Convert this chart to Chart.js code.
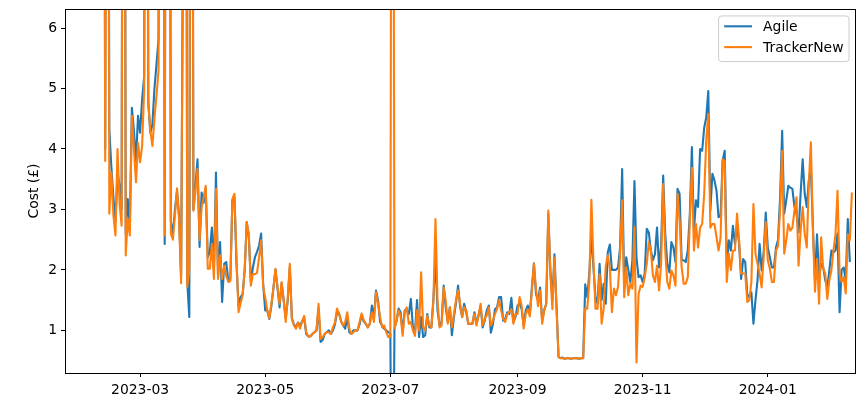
<!DOCTYPE html>
<html>
<head>
<meta charset="utf-8">
<title>Cost</title>
<script src="https://cdn.jsdelivr.net/npm/chart.js@4.4.1/dist/chart.umd.min.js"></script>
<style>
  html, body { margin: 0; padding: 0; background: #fff; }
  #wrap { width: 865px; height: 407px; }
</style>
</head>
<body>
<div id="wrap"><canvas id="costChart" width="865" height="407"></canvas></div>
<script>
// daily cost in £, one value per day starting on startDate
var startDate = '2023-02-11';

var agile = [
    20, 4.0, 20, 4.33, 3.7, 3.2, 2.8, 3.6, 3.4, 3.0,
    20, 2.6, 3.17, 2.7, 4.68, 4.3, 3.8, 4.55, 4.27, 4.82,
    5.2, 20, 4.77, 4.27, 4.4, 5.0, 5.4, 5.82, 20, 20,
    2.43, 20, 20, 2.8, 2.6, 3.0, 3.3, 2.9, 1.9, 8,
    20, 1.8, 1.22, 20, 3.0, 3.4, 3.83, 2.38, 3.28, 3.11,
    3.35, 2.21, 2.3, 2.7, 2.0, 3.61, 1.9, 2.46, 1.47, 2.1,
    2.13, 1.82, 1.85, 3.15, 3.2, 2.1, 1.41, 1.55, 1.6, 2.0,
    2.79, 2.55, 1.8, 2.04, 2.21, 2.3, 2.4, 2.6, 1.77, 1.33,
    1.33, 1.19, 1.4, 1.7, 2.0, 1.7, 1.38, 1.78, 1.5, 1.2,
    1.5, 2.05, 1.2, 1.1, 1.05, 1.13, 1.08, 1.15, 1.2, 0.94,
    0.9, 0.9, 0.94, 0.97, 1.0, 1.36, 0.81, 0.84, 0.94, 0.97,
    1.0, 0.94, 1.0, 1.1, 1.3, 1.28, 1.15, 1.08, 1.03, 1.22,
    0.97, 0.94, 1.0, 1.0, 1.0, 1.1, 1.25, 1.15, 1.11, 1.05,
    1.11, 1.41, 1.22, 1.66, 1.5, 1.14, 1.08, 1.03, 1.0, 0.97,
    0.95, -4, 1.03, 1.15, 1.36, 1.3, 0.97, 1.33, 1.33, 1.27,
    1.52, 1.05, 0.97, 1.5, 0.89, 1.22, 0.89, 0.92, 1.27, 1.05,
    1.05, 1.52, 2.2, 1.33, 1.08, 1.14, 1.74, 1.38, 1.14, 1.38,
    0.92, 1.22, 1.45, 1.74, 1.4, 1.22, 1.44, 1.3, 1.11, 1.11,
    1.11, 1.3, 1.11, 1.25, 1.4, 1.05, 1.16, 1.33, 1.41, 0.96,
    1.1, 1.35, 1.38, 1.55, 1.55, 1.16, 1.19, 1.3, 1.27, 1.54,
    1.14, 1.22, 1.41, 1.45, 1.35, 1.08, 1.33, 1.41, 1.27, 1.71,
    2.11, 1.6, 1.5, 1.71, 1.16, 1.33, 1.44, 2.93, 2.0, 1.5,
    2.26, 1.4, 0.56, 0.54, 0.55, 0.53, 0.54, 0.54, 0.53, 0.54,
    0.54, 0.54, 0.53, 0.54, 0.54, 1.76, 1.55, 1.94, 2.6, 2.04,
    1.55, 1.44, 2.1, 1.5, 1.77, 1.44, 2.29, 2.42, 2.0, 2.0,
    2.0, 2.04, 2.37, 3.67, 1.77, 2.21, 2.0, 1.8, 2.16, 3.47,
    2.2, 1.88, 1.91, 1.8, 1.94, 2.68, 2.62, 2.32, 2.16, 2.26,
    2.7, 2.04, 2.4, 3.56, 2.6, 2.1, 1.96, 2.46, 2.37, 2.13,
    3.34, 3.26, 2.16, 2.16, 2.13, 2.32, 2.93, 4.03, 2.65, 3.15,
    3.04, 4.0, 3.97, 4.35, 4.52, 4.96, 2.98, 3.59, 3.48, 3.31,
    2.87, 2.9, 3.81, 3.97, 2.05, 2.49, 2.32, 2.73, 2.43, 2.76,
    2.43, 1.85, 2.18, 2.13, 1.6, 1.55, 1.63, 1.11, 1.5, 1.83,
    2.43, 1.99, 2.3, 2.95, 2.37, 2.21, 2.04, 2.04, 2.37, 2.5,
    3.2, 4.3, 2.93, 3.15, 3.39, 3.36, 3.34, 3.04, 2.93, 2.62,
    3.26, 3.83, 3.26, 3.04, 3.48, 3.69, 2.7, 1.85, 2.59, 1.88,
    2.1, 2.05, 1.83, 1.71, 1.99, 2.32, 2.29, 2.32, 2.6, 1.3,
    2.0, 2.04, 1.83, 2.84, 2.13
];

var trackerNew = [
    20, 3.8, 20, 2.93, 3.61, 2.9, 2.57, 4.0, 3.1, 2.73,
    20, 2.24, 2.85, 2.57, 4.55, 4.0, 3.45, 4.1, 3.78, 4.05,
    5.0, 20, 4.77, 4.3, 4.05, 4.5, 4.88, 5.3, 20, 20,
    2.57, 20, 20, 2.6, 2.5, 2.9, 3.35, 2.83, 1.78, 8,
    20, 1.72, 2.0, 20, 2.98, 3.3, 3.67, 2.49, 3.03, 3.2,
    3.39, 2.02, 2.02, 2.43, 1.85, 3.34, 1.85, 2.24, 1.85, 2.07,
    1.9, 1.8, 1.82, 3.17, 3.26, 2.2, 1.3, 1.45, 1.58, 2.0,
    2.79, 2.6, 1.74, 1.93, 1.93, 1.95, 2.2, 2.49, 1.72, 1.55,
    1.33, 1.2, 1.44, 1.7, 2.02, 1.72, 1.44, 1.8, 1.5, 1.14,
    1.55, 2.1, 1.19, 1.08, 1.03, 1.13, 1.03, 1.15, 1.24, 0.97,
    0.9, 0.9, 0.94, 0.97, 1.0, 1.44, 0.86, 0.89, 0.94, 0.97,
    0.97, 0.94, 1.05, 1.13, 1.36, 1.28, 1.15, 1.08, 1.14, 1.3,
    1.03, 0.94, 0.97, 1.0, 1.0, 1.14, 1.28, 1.17, 1.11, 1.05,
    1.11, 1.3, 1.14, 1.63, 1.44, 1.22, 1.05, 1.08, 0.97, 0.89,
    0.9, 20, 1.03, 1.15, 1.33, 1.24, 0.91, 1.3, 1.38, 1.11,
    1.14, 1.0, 0.91, 1.33, 1.0, 1.96, 1.05, 1.0, 1.24, 1.08,
    1.05, 1.49, 2.84, 1.49, 1.05, 1.08, 1.71, 1.49, 1.11, 1.38,
    1.05, 1.27, 1.5, 1.66, 1.44, 1.22, 1.38, 1.33, 1.11, 1.11,
    1.11, 1.27, 1.08, 1.25, 1.44, 1.08, 1.19, 1.25, 1.38, 1.08,
    1.16, 1.27, 1.35, 1.5, 1.33, 1.19, 1.14, 1.27, 1.3, 1.35,
    1.11, 1.27, 1.27, 1.55, 1.41, 1.03, 1.27, 1.35, 1.23, 1.66,
    2.1, 1.68, 1.4, 1.66, 1.11, 1.33, 1.44, 2.98, 1.93, 1.35,
    2.2, 1.38, 0.56, 0.54, 0.54, 0.53, 0.54, 0.54, 0.53, 0.54,
    0.54, 0.54, 0.53, 0.54, 0.54, 1.36, 1.36, 1.8, 3.16, 2.16,
    1.36, 1.36, 1.93, 1.11, 1.36, 2.06, 2.24, 2.04, 1.3, 1.69,
    1.58, 1.72, 2.26, 3.15, 1.55, 2.04, 1.58, 1.77, 1.69, 2.71,
    0.47, 1.6, 1.74, 1.72, 1.88, 2.1, 2.46, 2.32, 1.91, 1.8,
    2.07, 1.66, 2.1, 3.42, 2.32, 1.8, 1.69, 1.99, 1.91, 1.74,
    3.26, 2.82, 2.05, 1.77, 1.77, 1.88, 2.82, 3.69, 2.32, 2.76,
    2.37, 2.7, 2.76, 3.26, 4.14, 4.58, 2.7, 2.76, 2.76, 2.54,
    2.32, 2.54, 3.83, 3.8, 1.8, 2.27, 2.0, 2.32, 2.32, 2.93,
    2.49, 1.94, 1.94, 1.94, 1.47, 1.5, 1.8, 3.09, 2.27, 2.1,
    1.94, 1.71, 2.21, 2.79, 2.16, 2.02, 1.8, 1.8, 2.32, 2.4,
    3.0, 3.97, 2.27, 2.49, 2.76, 2.65, 2.7, 2.98, 3.2, 2.07,
    2.65, 3.04, 2.6, 2.37, 3.42, 4.11, 2.65, 1.64, 2.18, 1.44,
    2.54, 2.02, 1.94, 1.52, 1.83, 1.99, 2.32, 2.59, 3.31, 1.94,
    1.8, 1.88, 1.61, 2.59, 2.49, 3.28
];

var seriesNames = ['Agile', 'TrackerNew'];
var seriesColors = ['#1f77b4', '#ff7f0e'];
var tickLabels = ['2023-03', '2023-05', '2023-07', '2023-09', '2023-11', '2024-01'];
var yTicks = [1, 2, 3, 4, 5, 6];

var FONT = 'DejaVu Sans';
var FS = 13.9;

function dayIndex(str) {
    var p = str.split('-');
    var t0 = Date.UTC(2023, 1, 11);
    var t = Date.UTC(+p[0], +p[1] - 1, p[2] ? +p[2] : 1);
    return Math.round((t - t0) / 86400000);
}

var tickPos = tickLabels.map(function (s) { return dayIndex(s); });

function toPoints(arr) {
    var off = dayIndex(startDate);
    return arr.map(function (v, i) { return { x: off + i, y: v }; });
}

// matplotlib style box round the axes
var frame = {
    id: 'frame',
    afterDatasetsDraw: function (chart) {
        var a = chart.chartArea, ctx = chart.ctx;
        ctx.save();
        ctx.strokeStyle = '#000';
        ctx.lineWidth = 1;
        ctx.strokeRect(Math.floor(a.left) + 0.5, Math.floor(a.top) + 0.5,
            Math.round(a.right - a.left) - 1, Math.round(a.bottom - a.top));
        ctx.restore();
    }
};

// legend drawn inside the top right corner
var insideLegend = {
    id: 'insideLegend',
    afterDraw: function (chart) {
        var a = chart.chartArea, ctx = chart.ctx;
        ctx.save();
        ctx.font = FS + 'px "' + FONT + '"';
        var sets = chart.data.datasets;
        var textW = 0;
        sets.forEach(function (d) { textW = Math.max(textW, ctx.measureText(d.label).width); });
        var pad = FS * 0.4, handle = FS * 2, gap = FS * 0.8;
        var w = pad * 2 + handle + gap + textW;
        var rowH = 20.8;
        var h = pad * 2 + rowH * sets.length - 7.1;
        var x0 = a.right - FS * 0.5 - w;
        var y0 = a.top + FS * 0.5;
        var r = 3;
        ctx.beginPath();
        ctx.moveTo(x0 + r, y0);
        ctx.lineTo(x0 + w - r, y0);
        ctx.arcTo(x0 + w, y0, x0 + w, y0 + r, r);
        ctx.lineTo(x0 + w, y0 + h - r);
        ctx.arcTo(x0 + w, y0 + h, x0 + w - r, y0 + h, r);
        ctx.lineTo(x0 + r, y0 + h);
        ctx.arcTo(x0, y0 + h, x0, y0 + h - r, r);
        ctx.lineTo(x0, y0 + r);
        ctx.arcTo(x0, y0, x0 + r, y0, r);
        ctx.closePath();
        ctx.fillStyle = 'rgba(255,255,255,0.8)';
        ctx.fill();
        ctx.strokeStyle = '#cccccc';
        ctx.lineWidth = 1;
        ctx.stroke();
        sets.forEach(function (d, i) {
            var cy = y0 + pad + 4.8 + i * rowH;
            ctx.strokeStyle = d.borderColor;
            ctx.lineWidth = 2.1;
            ctx.beginPath();
            ctx.moveTo(x0 + pad, cy);
            ctx.lineTo(x0 + pad + handle, cy);
            ctx.stroke();
            ctx.fillStyle = '#000';
            ctx.textBaseline = 'middle';
            ctx.textAlign = 'left';
            ctx.fillText(d.label, x0 + pad + handle + gap, cy + 1);
        });
        ctx.restore();
    }
};

Chart.defaults.font.family = FONT;
Chart.defaults.font.size = FS;
Chart.defaults.color = '#000';

var ctx = document.getElementById('costChart').getContext('2d');
var costChart = new Chart(ctx, {
    type: 'line',
    data: {
        datasets: [{
            label: seriesNames[0],
            data: toPoints(agile),
            borderColor: seriesColors[0],
            borderWidth: 2.1,
            pointRadius: 0,
            tension: 0,
            borderJoinStyle: 'round',
            order: 2
        }, {
            label: seriesNames[1],
            data: toPoints(trackerNew),
            borderColor: seriesColors[1],
            borderWidth: 2.1,
            pointRadius: 0,
            tension: 0,
            borderJoinStyle: 'round',
            order: 1
        }]
    },
    plugins: [frame, insideLegend],
    options: {
        responsive: false,
        animation: false,
        events: [],
        layout: { padding: { top: 9, right: 9, left: 0, bottom: 0 } },
        plugins: {
            legend: { display: false },
            tooltip: { enabled: false }
        },
        scales: {
            x: {
                type: 'linear',
                min: -18.6,
                max: 367.0,
                afterBuildTicks: function (axis) {
                    axis.ticks = tickPos.map(function (v) { return { value: v }; });
                },
                afterFit: function (axis) {
                    axis.height = 34;
                    axis.paddingLeft = 0;
                    axis.paddingRight = 0;
                },
                ticks: {
                    autoSkip: false,
                    maxRotation: 0,
                    padding: 5.5,
                    callback: function (v) {
                        var k = tickPos.indexOf(v);
                        return k >= 0 ? tickLabels[k] : '';
                    }
                },
                grid: { drawOnChartArea: false, drawTicks: true, tickLength: 4, color: '#000', lineWidth: 1 },
                border: { display: false }
            },
            y: {
                min: 0.295,
                max: 6.315,
                afterBuildTicks: function (axis) {
                    axis.ticks = yTicks.map(function (v) { return { value: v }; });
                },
                afterFit: function (axis) {
                    axis.width = 65;
                    axis.paddingTop = 0;
                    axis.paddingBottom = 0;
                },
                ticks: {
                    padding: 4,
                    callback: function (v) { return String(v); }
                },
                title: {
                    display: true,
                    text: 'Cost (£)',
                    padding: { top: 26, bottom: 0 }
                },
                grid: { drawOnChartArea: false, drawTicks: true, tickLength: 4, color: '#000', lineWidth: 1 },
                border: { display: false }
            }
        }
    }
});
</script>
</body>
</html>
